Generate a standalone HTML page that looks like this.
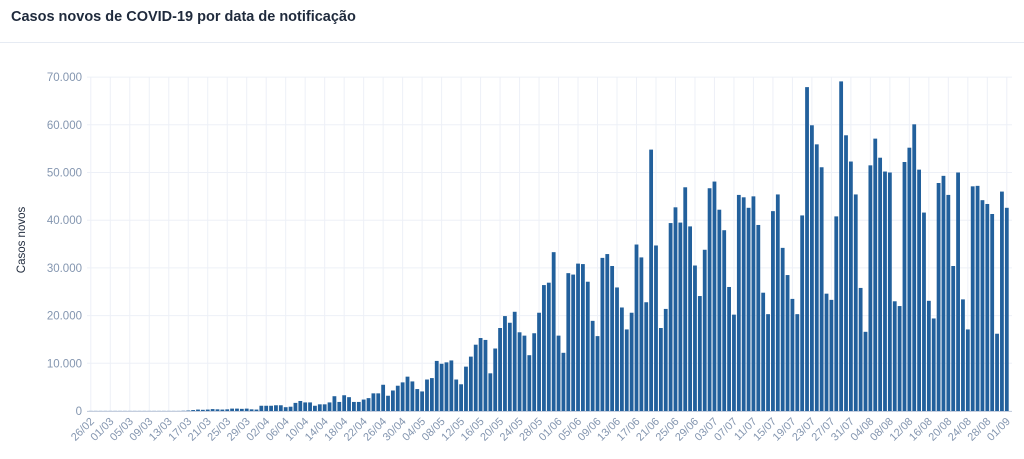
<!DOCTYPE html>
<html><head><meta charset="utf-8">
<style>
html,body{margin:0;padding:0;background:#fff;width:1024px;height:459px;overflow:hidden}
svg{display:block;font-family:"Liberation Sans",sans-serif}
</style></head><body>
<svg id="c" width="1024" height="459" xmlns="http://www.w3.org/2000/svg">
<text x="11" y="21" font-size="14.5" font-weight="bold" fill="#1f2a3c">Casos novos de COVID-19 por data de notificação</text>
<line x1="0" y1="42.5" x2="1024" y2="42.5" stroke="#e6ebf3" stroke-width="1"/>
<text transform="translate(25,240) rotate(-90)" font-size="11.5" fill="#1f2a3c" text-anchor="middle">Casos novos</text>
</svg>
<script>
var s=document.getElementById('c'),ns='http://www.w3.org/2000/svg';
function el(t,a,txt){var e=document.createElementNS(ns,t);for(var k in a)e.setAttribute(k,a[k]);if(txt!==undefined)e.textContent=txt;s.appendChild(e);return e;}
var v=[];for(var i=0;i<19;i++)v.push(0.02);
v=v.concat([0.05,0.1,0.2,0.3,0.25,0.3,0.4,0.35,0.3,0.35,0.5,0.5,0.45,0.5,0.35,0.3,
1.1,1.1,1.1,1.2,1.2,0.8,0.9,1.7,2.1,1.8,1.8,1.1,1.4,1.4,1.8,3.1,1.9,3.3,2.9,1.9,1.9,2.4,2.7,3.7,3.7,5.5,3.2,4.3,5.3,6.0,
7.2,6.2,4.6,4.1,6.6,6.9,10.5,9.9,10.2,10.6,6.6,5.6,9.3,11.4,13.9,15.3,14.9,7.9,13.1,17.4,19.9,18.5,20.8,16.5,15.8,11.7,16.3,20.6,26.4,26.9,33.3,
15.8,12.2,28.9,28.6,30.9,30.8,27.1,18.9,15.7,32.1,32.9,30.4,25.9,21.7,17.1,20.6,34.9,32.2,22.8,54.8,34.7,17.4,21.4,39.4,42.7,39.5,46.9,38.7,30.5,24.1,
33.8,46.7,48.1,42.2,37.9,26.0,20.2,45.3,44.8,42.6,45.0,39.0,24.8,20.3,41.9,
45.4,34.2,28.5,23.5,20.3,41.0,67.9,59.9,55.9,51.1,24.6,23.3,40.8,69.1,57.8,52.3,45.4,25.8,16.6,51.5,57.1,53.1,50.2,50.0,23.0,22.0,52.2,55.2,60.1,50.6,41.6,23.1,19.4,47.8,49.3,45.3,30.4,50.0,23.4,17.1,47.1,47.2,44.2,43.4,41.3,16.2,46.0,42.6]);
var x0=90.8,dx=(1006.8-90.8)/188,y0=411,py=4.77;
for(var k=0;k<=7;k++){var y=y0-k*10*py;
 el('line',{x1:87,x2:1012,y1:y,y2:y,stroke:'#edf0f7','stroke-width':1});
 el('text',{x:82,y:y+4,'font-size':11.5,fill:'#8496b0','text-anchor':'end'},k==0?'0':(k*10)+'.000');}
for(var i=0;i<=188;i+=4){var x=x0+i*dx;var dt=new Date(2020,1,26+i);
 el('line',{x1:x,x2:x,y1:77,y2:y0,stroke:'#edf0f7','stroke-width':1});
 var lab=('0'+dt.getDate()).slice(-2)+'/'+('0'+(dt.getMonth()+1)).slice(-2);
 el('text',{transform:'translate('+(x+4)+','+(y0+11)+') rotate(-45)','font-size':11,fill:'#8496b0','text-anchor':'end'},lab);}
el('line',{x1:87,x2:1012,y1:y0+0.5,y2:y0+0.5,stroke:'#c5cede','stroke-width':1});
for(var i=0;i<v.length;i++){var h=v[i]*py;var x=x0+i*dx;
 el('rect',{x:x-1.9,y:y0-h,width:3.8,height:h,fill:'#22609c'});}
</script>
</body></html>
